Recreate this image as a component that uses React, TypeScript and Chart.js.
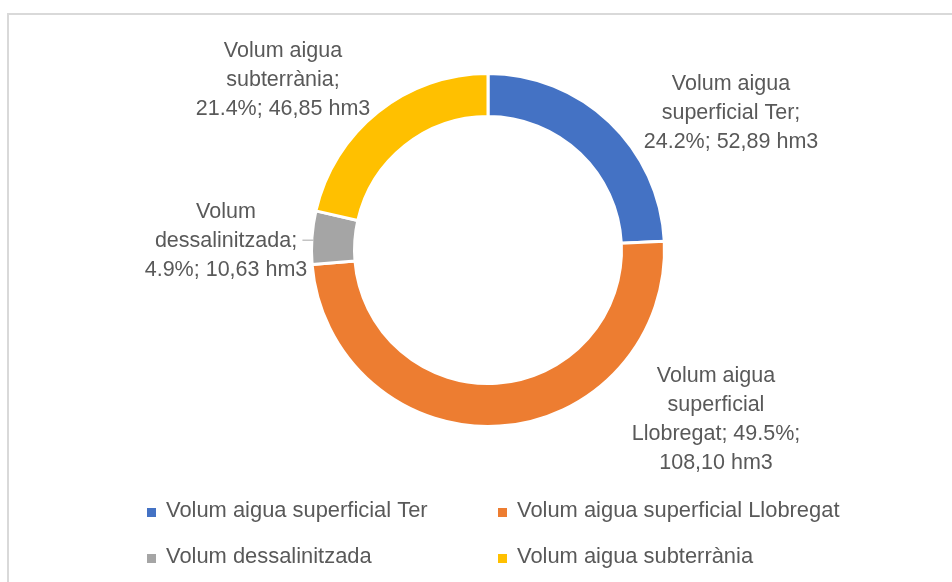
import { useEffect, useRef } from "react";
import { Chart, registerables } from "chart.js";

Chart.register(...registerables);

// ---- data ----
const CATEGORIES = [
  "Volum aigua superficial Ter",
  "Volum aigua superficial Llobregat",
  "Volum dessalinitzada",
  "Volum aigua subterrània",
];
const VALUES = [52.89, 108.1, 10.63, 46.85];
const UNIT = "hm3";

// ---- styles / layout ----
const COLORS = ["#4472C4", "#ED7D31", "#A5A5A5", "#FFC000"];
const W = 952;
const H = 582;
const CX = 488;
const CY = 250;
const BW = 3;
const R_OUT = 176.5;
const R_IN = 133.5;
const FONT = '21.5px "Liberation Sans", Arial, sans-serif';
const LEGEND_FONT = '21.9px "Liberation Sans", Arial, sans-serif';
const TEXT_COLOR = "#595959";
const LABEL_OFFSETS: [number, number][] = [
  [243, -137],
  [228, 169.5],
  [-262, -9],
  [-205, -170],
];
const LABEL_LEADER = [false, false, true, false];
const LABEL_WRAP = 180;
const LINE_H = 29;
const LEGEND_COLS = [147, 498];
const LEGEND_ROWS = [511, 557];

function wrap(ctx: CanvasRenderingContext2D, text: string, max: number) {
  const words = text.split(" ");
  const lines: string[] = [];
  let cur = "";
  for (const w of words) {
    const t = cur ? cur + " " + w : w;
    if (cur && ctx.measureText(t).width > max) {
      lines.push(cur);
      cur = w;
    } else cur = t;
  }
  if (cur) lines.push(cur);
  return lines;
}

const decorPlugin = {
  id: "decor",
  beforeDraw(chart: any) {
    const ctx = chart.ctx as CanvasRenderingContext2D;
    ctx.save();
    ctx.fillStyle = "#ffffff";
    ctx.fillRect(0, 0, W, H);
    ctx.fillStyle = "#d9d9d9";
    ctx.fillRect(7, 13, W, 2);
    ctx.fillRect(7, 13, 2, H);
    ctx.restore();
  },
  afterDraw(chart: any) {
    const ctx = chart.ctx as CanvasRenderingContext2D;
    const meta = chart.getDatasetMeta(0);
    const data = chart.data.datasets[0].data as number[];
    const total = data.reduce((a, b) => a + b, 0);
    ctx.save();
    ctx.font = FONT;
    ctx.fillStyle = TEXT_COLOR;
    ctx.textAlign = "center";
    ctx.textBaseline = "middle";
    meta.data.forEach((arc: any, i: number) => {
      const { x, y, startAngle, endAngle, outerRadius } = arc.getProps(
        ["x", "y", "startAngle", "endAngle", "outerRadius"],
        true
      );
      const pct = ((data[i] / total) * 100).toFixed(1);
      const val = data[i].toFixed(2).replace(".", ",");
      const text = `${chart.data.labels[i]}; ${pct}%; ${val} ${UNIT}`;
      const lines = wrap(ctx, text, LABEL_WRAP);
      const lx = x + LABEL_OFFSETS[i][0];
      const ly = y + LABEL_OFFSETS[i][1];
      const top = ly - ((lines.length - 1) * LINE_H) / 2;
      lines.forEach((ln, k) => ctx.fillText(ln, lx, top + k * LINE_H));
      if (LABEL_LEADER[i]) {
        const mid = (startAngle + endAngle) / 2;
        const px = x + Math.cos(mid) * (outerRadius - BW / 2);
        const py = y + Math.sin(mid) * (outerRadius - BW / 2) + 2;
        ctx.strokeStyle = "#a6a6a6";
        ctx.lineWidth = 1;
        ctx.beginPath();
        ctx.moveTo(px, py + 0.5);
        ctx.lineTo(px - 11, py + 0.5);
        ctx.stroke();
      }
    });
    // legend
    ctx.textAlign = "left";
    ctx.font = LEGEND_FONT;
    chart.data.labels.forEach((lab: string, i: number) => {
      const cx = LEGEND_COLS[i % 2];
      const cy = LEGEND_ROWS[Math.floor(i / 2)];
      ctx.fillStyle = COLORS[i];
      ctx.fillRect(cx, cy - 3, 9, 9);
      ctx.fillStyle = TEXT_COLOR;
      ctx.fillText(lab, cx + 19, cy);
    });
    ctx.restore();
  },
};

export default function App() {
  const ref = useRef<HTMLCanvasElement | null>(null);
  useEffect(() => {
    document.body.style.margin = "0";
    if (!ref.current) return;
    const half = 180;
    const chart = new Chart(ref.current, {
      type: "doughnut",
      data: {
        labels: CATEGORIES,
        datasets: [
          {
            data: VALUES,
            backgroundColor: COLORS,
            borderColor: "#ffffff",
            borderWidth: BW,
          },
        ],
      },
      options: {
        animation: false,
        responsive: false,
        maintainAspectRatio: false,
        events: [],
        radius: R_OUT,
        cutout: `${(R_IN / R_OUT) * 100}%`,
        layout: {
          padding: {
            left: CX - half,
            right: W - CX - half,
            top: CY - half,
            bottom: H - CY - half,
          },
        },
        plugins: {
          legend: { display: false },
          tooltip: { enabled: false },
          title: { display: false },
        },
      } as any,
      plugins: [decorPlugin],
    });
    return () => chart.destroy();
  }, []);
  return (
    <div style={{ width: W, height: H, overflow: "hidden" }}>
      <canvas ref={ref} width={W} height={H} style={{ display: "block" }} />
    </div>
  );
}
